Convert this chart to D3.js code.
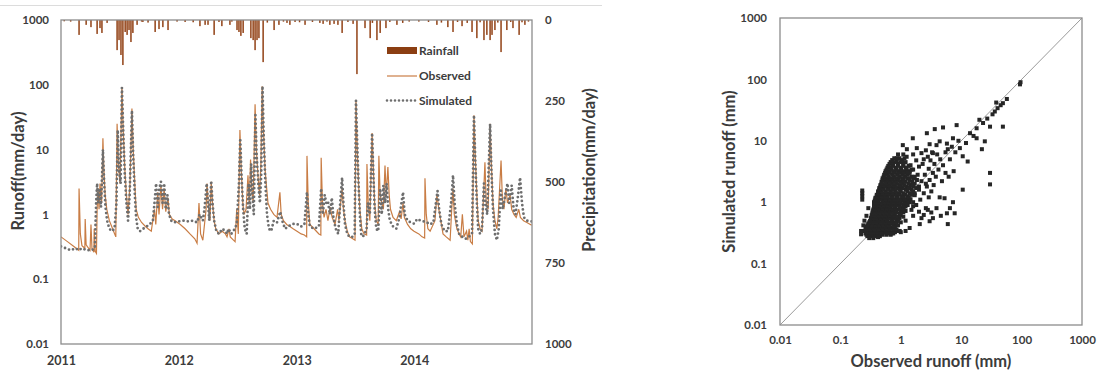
<!DOCTYPE html>
<html lang="en">
<head>
<meta charset="UTF-8">
<title>Runoff and precipitation</title>
<script src="https://cdn.jsdelivr.net/npm/d3@7"></script>
<style>
    body { margin: 0; background: #fff; }
    text { font-family: Lato, "Open Sans", sans-serif; font-weight: bold; fill: #3c3c3c; }
</style>
</head>
<body>
<svg id="chart" width="1099" height="373"></svg>
<script>
// ---- data (days counted from 2011-01-01) ----
const yearStarts = [0, 365, 731, 1096];
const yearLabels = ["2011", "2012", "2013", "2014"];
const logTicks = [0.01, 0.1, 1, 10, 100, 1000];
const logTickLabels = ["0.01", "0.1", "1", "10", "100", "1000"];
const rainTicks = [0, 250, 500, 750, 1000];

// observed runoff [day, mm/day]
const observed = [[0,0.45],[20,0.38],[40,0.32],[55,0.28],[56,2.5],[60,0.5],[65,0.33],[74,0.3],[75,0.85],[78,0.34],[90,0.28],[93,0.7],[96,0.3],[102,0.26],[103,0.6],[106,0.27],[110,0.25],[112,1.2],[115,2.5],[118,1.2],[121,3.0],[126,1.5],[130,15],[133,5],[137,2],[142,1.2],[150,0.8],[160,0.6],[170,0.45],[174,25],[178,6],[183,3],[189,90],[193,20],[198,5],[203,2],[208,1.0],[214,3],[220,43],[224,10],[229,3],[233,1.2],[240,0.9],[250,0.75],[262,0.65],[270,0.6],[280,0.55],[290,1.2],[294,0.7],[300,2.2],[304,1.0],[310,2.8],[315,1.2],[320,2.5],[325,1.1],[332,1.8],[336,1.0],[345,0.85],[354,0.8],[370,0.7],[385,0.6],[400,0.5],[415,0.42],[422,0.36],[428,1.5],[433,0.5],[440,0.4],[450,1.2],[453,3.0],[458,1.2],[462,0.8],[466,3.2],[470,1.5],[475,0.8],[480,0.6],[490,0.5],[500,0.55],[510,0.5],[515,0.45],[521,0.6],[525,0.45],[535,0.4],[540,0.38],[545,1.2],[550,0.5],[555,20],[559,5],[564,1.5],[568,1.0],[574,1.2],[580,4],[584,1.5],[588,7],[592,2.5],[596,1.5],[602,50],[606,10],[611,4],[616,2],[620,6],[624,95],[628,20],[633,5],[638,2.5],[642,1.5],[650,1.2],[660,1.0],[670,0.9],[679,2.2],[683,1.0],[690,0.8],[700,0.7],[710,0.65],[720,0.6],[732,0.55],[745,0.5],[755,0.48],[762,0.45],[763,8],[767,1.5],[772,0.7],[785,0.6],[800,0.5],[806,0.48],[807,7.5],[811,1.5],[816,0.9],[822,1.2],[828,0.8],[835,1.3],[841,0.9],[850,0.7],[858,1.2],[862,0.8],[872,2.5],[876,1.2],[881,0.8],[888,0.55],[895,0.45],[905,0.42],[912,0.4],[915,57],[919,10],[923,3],[927,1.2],[933,0.6],[940,0.5],[948,0.48],[949,6],[953,1.5],[958,0.8],[965,18],[969,5],[973,1.5],[978,0.8],[984,0.7],[986,8],[990,2],[995,1.5],[1000,1.2],[1005,5.7],[1009,2],[1014,5.4],[1018,2],[1022,1.2],[1030,0.9],[1040,0.8],[1050,1.1],[1055,0.85],[1061,1.5],[1065,0.9],[1075,0.7],[1085,0.6],[1095,0.55],[1110,0.5],[1120,0.45],[1128,0.43],[1129,3.6],[1133,1.0],[1138,0.6],[1145,0.55],[1160,0.8],[1166,2.0],[1172,1.2],[1178,0.8],[1185,0.5],[1195,0.45],[1207,0.4],[1212,1.2],[1216,2.5],[1220,1.0],[1228,0.6],[1235,0.5],[1240,0.45],[1245,1.0],[1250,0.45],[1258,0.55],[1262,0.4],[1266,0.6],[1270,0.38],[1276,0.35],[1281,34],[1285,8],[1290,2],[1294,0.8],[1300,0.6],[1306,0.55],[1315,6.4],[1319,1.5],[1325,1.2],[1331,25],[1335,6],[1340,1.5],[1346,0.8],[1352,0.6],[1356,0.9],[1365,6.8],[1369,1.8],[1374,1.2],[1380,2.5],[1385,1.5],[1393,2.0],[1398,1.2],[1405,1.0],[1412,0.9],[1420,1.2],[1425,0.9],[1435,0.8],[1445,0.75],[1460,0.68]];

// simulated runoff [day, mm/day]
const simulated = [[0,0.32],[15,0.3],[30,0.28],[45,0.3],[55,0.28],[65,0.3],[80,0.28],[95,0.28],[105,0.3],[109,1.5],[112,3.0],[116,1.5],[120,2.5],[124,1.3],[130,10],[134,3],[138,1.3],[143,0.8],[150,0.6],[158,0.55],[166,0.6],[172,1.5],[176,20],[180,5],[185,3],[189,90],[193,20],[198,4],[203,1.5],[208,0.8],[213,2],[220,40],[224,8],[229,2],[233,0.9],[238,0.6],[245,0.55],[255,0.6],[265,0.65],[275,0.7],[285,0.8],[290,1.5],[295,3.0],[300,1.3],[305,2.5],[310,3.2],[315,1.5],[320,3.0],[325,1.2],[330,2.0],[335,1.0],[342,0.8],[350,0.75],[365,0.78],[380,0.8],[395,0.78],[410,0.8],[422,0.75],[430,1.0],[440,0.8],[445,1.2],[452,3.0],[456,1.5],[460,0.8],[466,3.3],[470,1.5],[475,0.8],[482,0.55],[490,0.5],[500,0.6],[510,0.55],[515,0.5],[520,0.6],[528,0.5],[535,0.55],[545,0.7],[552,3],[556,15],[560,4],[565,1.2],[570,0.6],[576,0.5],[582,3],[586,1.2],[590,6],[594,2],[598,1.0],[603,34],[607,8],[612,3],[617,1.5],[621,4],[625,95],[629,15],[634,3],[639,1.0],[645,0.6],[652,0.55],[660,0.8],[670,0.75],[680,1.1],[686,0.8],[695,0.6],[705,0.65],[715,0.7],[725,0.72],[735,0.7],[745,0.65],[755,0.7],[763,2.2],[767,1.0],[772,0.65],[785,0.6],[800,0.65],[807,2.5],[812,1.0],[818,2.0],[823,1.5],[828,1.6],[834,1.0],[840,1.8],[845,0.9],[852,0.6],[860,0.5],[866,1.5],[872,3.7],[876,1.5],[881,0.7],[888,0.5],[895,0.45],[905,0.45],[911,0.5],[915,57],[919,12],[923,3],[927,1.0],[931,0.5],[936,0.45],[942,0.5],[948,0.6],[952,1.5],[958,1.0],[965,18],[969,4],[973,1.2],[978,0.6],[984,0.55],[990,2.5],[995,1.0],[1000,2.8],[1005,1.5],[1010,3.0],[1015,1.2],[1020,0.8],[1030,0.65],[1040,0.6],[1050,0.9],[1056,1.5],[1061,2.2],[1066,1.0],[1075,0.8],[1085,0.75],[1095,0.72],[1105,0.85],[1115,0.8],[1125,0.78],[1135,0.75],[1145,0.7],[1155,0.75],[1163,1.5],[1168,2.3],[1173,1.2],[1180,0.7],[1190,0.55],[1200,0.55],[1210,1.5],[1216,4.0],[1221,1.5],[1228,0.7],[1235,0.5],[1245,0.45],[1255,0.42],[1265,0.45],[1275,0.5],[1281,34],[1285,7],[1290,1.5],[1294,0.6],[1300,0.5],[1306,0.6],[1312,3],[1316,1.5],[1322,1.0],[1331,25],[1335,5],[1340,1.2],[1346,0.5],[1352,0.4],[1358,0.6],[1364,2.5],[1370,1.2],[1378,2.0],[1385,3.0],[1390,1.5],[1398,2.8],[1404,1.2],[1410,1.0],[1418,2.0],[1424,3.7],[1430,1.5],[1436,0.9],[1445,0.8],[1460,0.78]];

// daily rainfall [day, mm/day]
const rainfall = [[10,4],[30,5],[56,46],[78,15],[93,22],[112,43],[121,25],[127,40],[143,9],[174,93],[180,62],[186,108],[192,139],[199,37],[205,46],[211,31],[217,68],[223,40],[236,15],[250,5],[254,6],[270,8],[292,37],[304,28],[316,22],[332,31],[360,5],[385,6],[410,7],[431,19],[447,15],[456,15],[475,46],[490,6],[499,19],[524,15],[530,5],[546,31],[552,37],[558,49],[565,40],[589,56],[596,62],[602,93],[608,62],[614,56],[627,130],[640,8],[661,31],[676,15],[690,5],[701,9],[710,15],[726,6],[740,7],[757,15],[780,6],[803,9],[813,12],[825,5],[834,15],[847,12],[859,15],[872,40],[890,6],[906,12],[918,167],[943,25],[959,56],[966,9],[980,62],[990,40],[1008,25],[1020,6],[1042,15],[1060,9],[1080,5],[1110,5],[1140,6],[1166,15],[1180,8],[1200,22],[1216,37],[1230,6],[1244,19],[1260,9],[1275,37],[1290,56],[1300,7],[1312,62],[1321,46],[1331,62],[1337,46],[1346,31],[1355,8],[1365,99],[1383,31],[1395,6],[1402,25],[1421,46],[1430,7],[1439,15],[1450,5]];

// observed vs simulated runoff [obs mm, sim mm]
const scatterPoints = [
  [0.28,0.28],[0.32,0.28],[0.36,0.28],[0.40,0.28],[0.45,0.28],
  [0.27,0.295],[0.3,0.295],[0.34,0.295],[0.38,0.295],[0.42,0.295],[0.5,0.295],[0.58,0.295],[0.68,0.295],
  [0.26,0.31],[0.30,0.31],[0.34,0.31],[0.38,0.31],[0.43,0.31],[0.5,0.31],[0.6,0.31],[0.75,0.31],
  [0.28,0.325],[0.32,0.325],[0.36,0.325],[0.41,0.325],[0.46,0.325],[0.52,0.325],[0.6,0.325],[0.7,0.325],[0.8,0.325],[1.0,0.325],
  [0.25,0.34],[0.33,0.34],[0.4,0.34],[0.48,0.34],[0.55,0.34],[0.65,0.34],[0.9,0.34],[1.2,0.34],
  [0.28,0.36],[0.32,0.36],[0.37,0.36],[0.44,0.36],[0.52,0.36],[0.62,0.36],[0.75,0.36],[0.85,0.36],
  [0.26,0.38],[0.3,0.38],[0.35,0.38],[0.42,0.38],[0.5,0.38],[0.58,0.38],[0.7,0.38],
  [0.27,0.40],[0.31,0.40],[0.36,0.40],[0.41,0.40],[0.48,0.40],[0.55,0.40],[0.64,0.40],[0.8,0.40],
  [0.28,0.42],[0.33,0.42],[0.38,0.42],[0.45,0.42],[0.52,0.42],[0.62,0.42],[0.75,0.42],[0.9,0.42],
  [0.29,0.445],[0.34,0.445],[0.39,0.445],[0.43,0.445],[0.5,0.445],[0.58,0.445],[0.7,0.445],[0.85,0.445],
  [0.3,0.47],[0.35,0.47],[0.4,0.47],[0.46,0.47],[0.55,0.47],[0.65,0.47],[0.8,0.47],[1.0,0.47],
  [0.31,0.495],[0.36,0.495],[0.42,0.495],[0.48,0.495],[0.53,0.495],[0.6,0.495],[0.72,0.495],[0.9,0.495],
  [0.32,0.52],[0.37,0.52],[0.43,0.52],[0.5,0.52],[0.58,0.52],[0.7,0.52],[0.85,0.52],
  [0.32,0.55],[0.35,0.55],[0.4,0.55],[0.46,0.55],[0.54,0.55],[0.64,0.55],[0.78,0.55],[0.95,0.55],
  [0.33,0.58],[0.38,0.58],[0.45,0.58],[0.52,0.58],[0.6,0.58],[0.72,0.58],[0.9,0.58],[1.1,0.58],
  [0.33,0.615],[0.36,0.615],[0.42,0.615],[0.49,0.615],[0.56,0.615],[0.66,0.615],[0.8,0.615],[1.0,0.615],
  [0.34,0.65],[0.4,0.65],[0.46,0.65],[0.54,0.65],[0.63,0.65],[0.75,0.65],[0.95,0.65],
  [0.34,0.685],[0.37,0.685],[0.44,0.685],[0.51,0.685],[0.59,0.685],[0.7,0.685],[0.85,0.685],[1.1,0.685],
  [0.35,0.72],[0.41,0.72],[0.48,0.72],[0.56,0.72],[0.66,0.72],[0.8,0.72],[1.0,0.72],[1.2,0.72],
  [0.35,0.76],[0.38,0.76],[0.45,0.76],[0.54,0.76],[0.63,0.76],[0.74,0.76],[0.92,0.76],[1.12,0.76],
  [0.36,0.8],[0.42,0.8],[0.5,0.8],[0.58,0.8],[0.68,0.8],[0.82,0.8],[1.05,0.8],
  [0.36,0.85],[0.4,0.85],[0.47,0.85],[0.55,0.85],[0.64,0.85],[0.78,0.85],[0.96,0.85],[1.2,0.85],
  [0.37,0.9],[0.44,0.9],[0.52,0.9],[0.6,0.9],[0.72,0.9],[0.88,0.9],[1.1,0.9],[1.3,0.9],
  [0.36,0.95],[0.4,0.95],[0.48,0.95],[0.57,0.95],[0.68,0.95],[0.82,0.95],[1.0,0.95],[1.25,0.95],
  [0.36,1.0],[0.43,1.0],[0.53,1.0],[0.63,1.0],[0.75,1.0],[0.92,1.0],[1.15,1.0],[1.4,1.0],
  [0.37,1.06],[0.42,1.06],[0.5,1.06],[0.6,1.06],[0.7,1.06],[0.86,1.06],[1.05,1.06],[1.3,1.06],
  [0.38,1.12],[0.46,1.12],[0.55,1.12],[0.66,1.12],[0.8,1.12],[0.98,1.12],[1.2,1.12],[1.45,1.12],
  [0.38,1.18],[0.43,1.18],[0.5,1.18],[0.6,1.18],[0.72,1.18],[0.88,1.18],[1.1,1.18],[1.35,1.18],
  [0.4,1.25],[0.48,1.25],[0.57,1.25],[0.7,1.25],[0.85,1.25],[1.05,1.25],[1.3,1.25],
  [0.4,1.32],[0.45,1.32],[0.53,1.32],[0.64,1.32],[0.78,1.32],[0.95,1.32],[1.18,1.32],[1.5,1.32],
  [0.42,1.4],[0.5,1.4],[0.6,1.4],[0.73,1.4],[0.9,1.4],[1.1,1.4],[1.4,1.4],[1.7,1.4],
  [0.42,1.5],[0.47,1.5],[0.56,1.5],[0.68,1.5],[0.82,1.5],[1.0,1.5],[1.28,1.5],[1.6,1.5],
  [0.44,1.6],[0.52,1.6],[0.63,1.6],[0.77,1.6],[0.95,1.6],[1.2,1.6],[1.5,1.6],
  [0.44,1.7],[0.5,1.7],[0.6,1.7],[0.72,1.7],[0.88,1.7],[1.08,1.7],[1.38,1.7],[1.8,1.7],
  [0.46,1.8],[0.55,1.8],[0.66,1.8],[0.8,1.8],[1.0,1.8],[1.25,1.8],[1.6,1.8],[2.0,1.8],
  [0.46,1.9],[0.52,1.9],[0.62,1.9],[0.76,1.9],[0.94,1.9],[1.15,1.9],[1.45,1.9],
  [0.48,2.0],[0.58,2.0],[0.7,2.0],[0.86,2.0],[1.06,2.0],[1.35,2.0],[1.7,2.0],
  [0.48,2.15],[0.55,2.15],[0.66,2.15],[0.8,2.15],[0.98,2.15],[1.2,2.15],[1.55,2.15],
  [0.5,2.3],[0.61,2.3],[0.74,2.3],[0.9,2.3],[1.12,2.3],[1.4,2.3],[1.85,2.3],
  [0.5,2.45],[0.57,2.45],[0.69,2.45],[0.84,2.45],[1.05,2.45],[1.3,2.45],[1.65,2.45],
  [0.52,2.6],[0.63,2.6],[0.77,2.6],[0.95,2.6],[1.18,2.6],[1.5,2.6],
  [0.53,2.8],[0.6,2.8],[0.72,2.8],[0.88,2.8],[1.08,2.8],[1.3,2.8],
  [0.55,3.0],[0.66,3.0],[0.8,3.0],[0.97,3.0],[1.17,3.0],[1.4,3.0],
  [0.56,3.2],[0.62,3.2],[0.76,3.2],[0.92,3.2],[1.12,3.2],[1.4,3.2],
  [0.58,3.4],[0.7,3.4],[0.85,3.4],[1.02,3.4],[1.25,3.4],[1.5,3.4],
  [0.6,3.65],[0.68,3.65],[0.82,3.65],[1.0,3.65],[1.22,3.65],
  [0.62,3.9],[0.75,3.9],[0.9,3.9],[1.1,3.9],[1.35,3.9],
  [0.65,4.2],[0.74,4.2],[0.9,4.2],[1.1,4.2],
  [0.68,4.5],[0.82,4.5],[1.0,4.5],[1.2,4.5],
  [0.72,4.85],[0.86,4.85],[1.05,4.85],
  [0.78,5.2],[0.95,5.2],[1.15,5.2],[0.9,6.0],[1.1,6.0],
  [1.5,0.75],[1.6,1.0],[1.7,1.3],[1.8,0.9],[2.0,1.6],[2.1,1.1],[2.2,2.2],[2.4,1.4],[2.5,2.8],[2.7,1.8],
  [2.9,3.5],[3.0,2.3],[3.2,1.5],[3.4,3.0],[3.6,4.2],[3.8,2.6],[4.2,3.4],[4.5,5.0],[1.9,2.8],[1.6,3.4],
  [2.3,4.2],[1.4,2.4],[1.55,1.9],[2.8,5.5],[3.3,6.5],[5.0,4.0],[5.5,6.5],[6.5,5.0],[7,8],[8,6.5],
  [9,10],[1.8,4.8],[2.6,7],[3.9,8.5],[5.8,9],[1.7,2.6],[2.0,3.8],[1.3,3.0],[1.45,4.0],[1.25,5.5],
  [1.6,6.0],[2.4,5.0],[4.0,6.0],[3.1,4.8],[1.35,1.7],[1.5,1.35],[2.6,2.0],[3.5,1.9],[4.8,2.2],[5.5,3.0],
  [6.2,2.6],[7.5,3.2],[4.4,1.2],[2.9,1.2],
  [1.58,11],[2.7,13.3],[3.65,15.5],[5.0,16.5],[8.4,18],[1.08,8.5],[0.86,5.2],[1.26,7.3],[1.84,7.6],[3.0,8.8],
  [2.2,6.3],[4.4,9.8],[7.3,11],[3.4,6.3],[6,7.3],[9.5,7.6],[12,9.2],[14,13.3],[18,16],[23,19.5],
  [27,23],[33,27],[40,34],[49,41],[57,48],[94,83],[96,90],[30,17],[49,17],[18,11],
  [22,7.3],[24.6,9.8],[10.6,5.6],[12.8,4.6],[30,3.0],[30,1.95],[36,30],[45,38],[38,42],[20,22],[16,12],
  [1.6,0.86],[2.0,0.7],[2.4,0.62],[2.8,0.75],[3.4,0.55],[5.8,0.66],[6,0.44],[7.3,1.0],[7.8,0.66],[10.6,1.6],
  [5.3,1.16],[3.9,0.8],[2.06,0.44],[1.4,0.38],[0.96,0.34],[0.7,0.31],[0.48,0.31],[3,0.49],[2.2,0.55],[2.6,0.8],
  [3.2,0.68],[6.5,0.8],[4.6,0.6],[1.2,0.5],[1.6,0.6],
  [0.23,1.1],[0.23,1.25],[0.23,1.4],[0.23,1.55],[0.22,0.34],[0.24,0.42],[0.25,0.5],[0.22,0.3],[0.3,0.26],[0.35,0.26],
  [0.42,0.27],[0.27,0.6],[0.29,0.8]
];

// ---- drawing ----
const svg = d3.select("#chart");
const frameColor = "#8c8c8c";
const rainColor = "#924216";
const obsColor = "#c97d45";
const simColor = "#6e6e6e";

// thin rule across the top of the left panel
svg.append("line")
    .attr("x1", 0).attr("x2", 602).attr("y1", 5.5).attr("y2", 5.5)
    .attr("stroke", "#dcdcdc").attr("stroke-width", 1);

// left panel: time series
const L = { left: 61, right: 532, top: 20, bottom: 344 };
const x = d3.scaleLinear().domain([0, 1461]).range([L.left, L.right]);
const y = d3.scaleLog().domain([0.01, 1000]).range([L.bottom, L.top]);
const yRain = d3.scaleLinear().domain([0, 1000]).range([L.top, L.bottom]);

svg.append("defs").append("clipPath").attr("id", "clipL")
    .append("rect").attr("x", L.left).attr("y", L.top)
    .attr("width", L.right - L.left).attr("height", L.bottom - L.top);

const plotL = svg.append("g").attr("clip-path", "url(#clipL)");

// rainfall bars hanging from the top
plotL.append("g").selectAll("rect")
    .data(rainfall)
    .join("rect")
    .attr("x", d => x(d[0]) - 0.75)
    .attr("y", L.top)
    .attr("width", 1.5)
    .attr("height", d => yRain(d[1]) - L.top)
    .attr("fill", rainColor);

const line = d3.line().x(d => x(d[0])).y(d => y(d[1]));

plotL.append("path")
    .datum(observed)
    .attr("d", line)
    .attr("fill", "none")
    .attr("stroke", obsColor)
    .attr("stroke-width", 1.2);

plotL.append("path")
    .datum(simulated)
    .attr("d", line)
    .attr("fill", "none")
    .attr("stroke", simColor)
    .attr("stroke-width", 2.8)
    .attr("stroke-linecap", "round")
    .attr("stroke-dasharray", "0,4.3");

svg.append("rect")
    .attr("x", L.left).attr("y", L.top)
    .attr("width", L.right - L.left).attr("height", L.bottom - L.top)
    .attr("fill", "none").attr("stroke", frameColor).attr("stroke-width", 1.3);

// axes (labels only, no tick marks)
const axisL = svg.append("g").attr("transform", `translate(${L.left},0)`)
    .call(d3.axisLeft(y).tickValues(logTicks).tickFormat((d, i) => logTickLabels[i]).tickSize(0).tickPadding(12));
const axisR = svg.append("g").attr("transform", `translate(${L.right},0)`)
    .call(d3.axisRight(yRain).tickValues(rainTicks).tickFormat(d3.format("d")).tickSize(0).tickPadding(13));
const axisB = svg.append("g").attr("transform", `translate(0,${L.bottom})`)
    .call(d3.axisBottom(x).tickValues(yearStarts).tickFormat((d, i) => yearLabels[i]).tickSize(0).tickPadding(12));
[axisL, axisR, axisB].forEach(a => {
    a.select(".domain").remove();
    a.selectAll("text").style("font-size", "11.5px").attr("fill", "#3c3c3c");
});
axisB.selectAll("text").style("font-size", "12.5px");

svg.append("text")
    .attr("transform", `translate(24,${(L.top + L.bottom) / 2 - 11}) rotate(-90)`)
    .attr("text-anchor", "middle")
    .style("font-size", "16.5px")
    .text("Runoff(mm/day)");
svg.append("text")
    .attr("transform", `translate(595,${(L.top + L.bottom) / 2 - 12}) rotate(-90)`)
    .attr("text-anchor", "middle")
    .style("font-size", "16.5px")
    .text("Precipitation(mm/day)");

// legend
const legend = svg.append("g").attr("transform", "translate(387,0)");
legend.append("rect").attr("x", 0).attr("y", 47).attr("width", 30).attr("height", 7).attr("fill", "#8b3e12");
legend.append("line").attr("x1", 0).attr("x2", 30).attr("y1", 76).attr("y2", 76)
    .attr("stroke", obsColor).attr("stroke-width", 1.2);
legend.append("line").attr("x1", 0).attr("x2", 30).attr("y1", 100.5).attr("y2", 100.5)
    .attr("stroke", simColor).attr("stroke-width", 2.6)
    .attr("stroke-linecap", "round").attr("stroke-dasharray", "0,4");
legend.selectAll("text.lab")
    .data(["Rainfall", "Observed", "Simulated"])
    .join("text")
    .attr("x", 32)
    .attr("y", (d, i) => 51 + i * 25)
    .attr("dy", "0.35em")
    .style("font-size", "12px")
    .text(d => d);

// right panel: scatter
const R = { left: 780, right: 1082, top: 18, bottom: 325 };
const sx = d3.scaleLog().domain([0.01, 1000]).range([R.left, R.right]);
const sy = d3.scaleLog().domain([0.01, 1000]).range([R.bottom, R.top]);

svg.append("line")
    .attr("x1", sx(0.01)).attr("y1", sy(0.01))
    .attr("x2", sx(1000)).attr("y2", sy(1000))
    .attr("stroke", "#9a9a9a").attr("stroke-width", 1);

svg.append("g").selectAll("rect")
    .data(scatterPoints)
    .join("rect")
    .attr("x", d => sx(d[0]) - 2)
    .attr("y", d => sy(d[1]) - 2)
    .attr("width", 4)
    .attr("height", 4)
    .attr("fill", "#262626");

svg.append("rect")
    .attr("x", R.left).attr("y", R.top)
    .attr("width", R.right - R.left).attr("height", R.bottom - R.top)
    .attr("fill", "none").attr("stroke", frameColor).attr("stroke-width", 1.3);

const axisSL = svg.append("g").attr("transform", `translate(${R.left},0)`)
    .call(d3.axisLeft(sy).tickValues(logTicks).tickFormat((d, i) => logTickLabels[i]).tickSize(0).tickPadding(13));
const axisSB = svg.append("g").attr("transform", `translate(0,${R.bottom})`)
    .call(d3.axisBottom(sx).tickValues(logTicks).tickFormat((d, i) => logTickLabels[i]).tickSize(0).tickPadding(11));
[axisSL, axisSB].forEach(a => {
    a.select(".domain").remove();
    a.selectAll("text").style("font-size", "11.5px").attr("fill", "#3c3c3c");
});

svg.append("text")
    .attr("x", (R.left + R.right) / 2)
    .attr("y", 361)
    .attr("dy", "0.35em")
    .attr("text-anchor", "middle")
    .style("font-size", "16.5px")
    .text("Observed runoff (mm)");
svg.append("text")
    .attr("transform", `translate(735,${(R.top + R.bottom) / 2}) rotate(-90)`)
    .attr("text-anchor", "middle")
    .style("font-size", "16.5px")
    .text("Simulated runoff (mm)");
</script>
</body>
</html>
